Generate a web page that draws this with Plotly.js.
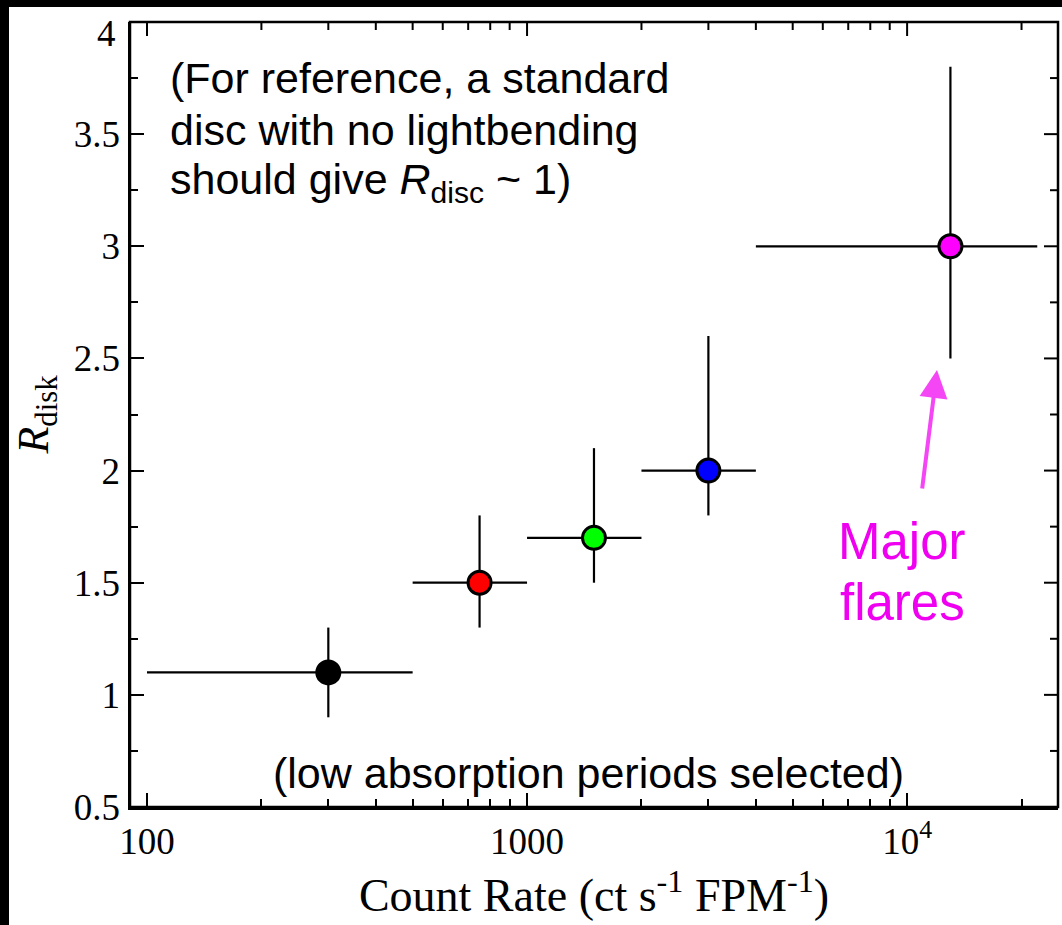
<!DOCTYPE html>
<html>
<head>
<meta charset="utf-8">
<script src="https://cdn.plot.ly/plotly-3.0.1.min.js"></script>
<style>
  html, body { margin: 0; padding: 0; background: #000; width: 1062px; height: 925px; overflow: hidden; }
  #chart { position: absolute; left: 9px; top: 7px; width: 1053px; height: 918px; background: #fff; }
</style>
</head>
<body>
<div id="chart"></div>
<script>
// Count-rate bins (ct s^-1 FPM^-1): centre and bin edges
const countRate = [300, 750, 1500, 3000, 13000];
const countLo   = [100, 500, 1000, 2000, 4000];
const countHi   = [500, 1000, 2000, 4000, 22000];

// Disc reflection fraction per bin, with lower/upper bounds
const rDisk = [1.1, 1.5, 1.7, 2.0, 3.0];
const rLo   = [0.9, 1.3, 1.5, 1.8, 2.5];
const rHi   = [1.3, 1.8, 2.1, 2.6, 3.8];

const pointColors = ['#000000', '#ff0000', '#00ff00', '#0000ff', '#ff00ff'];

const xTickVals = [100, 1000, 10000];
const xTickText = ['100', '1000', '10<sup>4</sup>'];
const xMinorVals = [200, 300, 400, 500, 600, 700, 800, 900,
                    2000, 3000, 4000, 5000, 6000, 7000, 8000, 9000, 20000];
// the top label (4) sits just below its tick so it stays inside the frame
const yTickVals = [0.5, 1, 1.5, 2, 2.5, 3, 3.5, 4];
const yTickText = ['0.5', '1', '1.5', '2', '2.5', '3', '3.5', ''];
const yTopLabel = '4';
const yMinorVals = [0.75, 1.25, 1.75, 2.25, 2.75, 3.25, 3.75];

const serif = 'Times New Roman, Liberation Serif, serif';
const sans = 'Arial, Liberation Sans, Helvetica, sans-serif';

const xRange = [1.9553, 4.397];
const yRange = [0.5, 4];
const MAJOR_LEN = 14, MINOR_LEN = 8;

const trace = {
  x: countRate,
  y: rDisk,
  type: 'scatter',
  mode: 'markers',
  marker: {
    size: 23,
    color: pointColors,
    line: { color: '#000', width: 3 }
  },
  error_x: {
    type: 'data', symmetric: false,
    array: countHi.map((h, i) => h - countRate[i]),
    arrayminus: countLo.map((l, i) => countRate[i] - l),
    color: '#000', thickness: 2.2, width: 0
  },
  error_y: {
    type: 'data', symmetric: false,
    array: rHi.map((h, i) => h - rDisk[i]),
    arrayminus: rLo.map((l, i) => rDisk[i] - l),
    color: '#000', thickness: 2.2, width: 0
  },
  hoverinfo: 'x+y'
};

// invisible companion trace carrying the minor-tick axes
const minorTrace = {
  x: countRate, y: rDisk, xaxis: 'x2', yaxis: 'y2',
  type: 'scatter', mode: 'markers', marker: { opacity: 0 }, hoverinfo: 'skip', showlegend: false
};

// plot-area pixel geometry inside the chart div
const W = 1053 - 121 - 4, H = 918 - 15 - 118;
const px = x => (x - 130) / W;        // page x -> paper x
const py = y => (807 - y) / H;        // page y -> paper y

const noteFont = { family: sans, size: 43, color: '#000' };
const flareFont = { family: sans, size: 51, color: '#f000f0' };
const tickFont = { family: serif, size: 37, color: '#000' };

const plain = { showgrid: false, zeroline: false, tickmode: 'array', ticks: 'inside', tickwidth: 2, tickcolor: '#000' };

// frame box plus tick marks along the top and right edges
const tickLine = { color: '#000', width: 2 };
const shapes = [
  { type: 'rect', xref: 'paper', yref: 'paper', x0: 0, x1: 1, y0: 0, y1: 1,
    line: { color: '#000', width: 2.5 }, fillcolor: 'rgba(0,0,0,0)', layer: 'above' }
];
xTickVals.concat(xMinorVals).forEach((v, i) => {
  const len = i < xTickVals.length ? MAJOR_LEN : MINOR_LEN;
  shapes.push({ type: 'line', xref: 'x', yref: 'paper', x0: v, x1: v, y0: 1, y1: 1 - len / H, line: tickLine, layer: 'above' });
});
yTickVals.concat(yMinorVals).forEach((v, i) => {
  const len = i < yTickVals.length ? MAJOR_LEN : MINOR_LEN;
  shapes.push({ type: 'line', xref: 'paper', yref: 'y', x0: 1, x1: 1 - len / W, y0: v, y1: v, line: tickLine, layer: 'above' });
});

const layout = {
  width: 1053,
  height: 918,
  margin: { l: 121, r: 4, t: 15, b: 118 },
  paper_bgcolor: '#fff',
  plot_bgcolor: '#fff',
  showlegend: false,
  xaxis: Object.assign({ type: 'log', range: xRange, tickvals: xTickVals, ticktext: xTickText, tickfont: tickFont, ticklen: MAJOR_LEN,
    showline: true, linecolor: '#000', linewidth: 2.5,
    title: { text: 'Count Rate (ct s<sup>-1</sup> FPM<sup>-1</sup>)', font: { family: serif, size: 46, color: '#000' }, standoff: 18 }
  }, plain),
  yaxis: Object.assign({ range: yRange, tickvals: yTickVals, ticktext: yTickText, tickfont: tickFont, ticklen: MAJOR_LEN,
    showline: true, linecolor: '#000', linewidth: 2.5,
    title: { text: '<i>R</i><sub>disk</sub>', font: { family: serif, size: 44, color: '#000' }, standoff: 14 }
  }, plain),
  xaxis2: Object.assign({ type: 'log', range: xRange, overlaying: 'x', anchor: 'y', side: 'bottom',
    tickvals: xMinorVals, ticklen: MINOR_LEN, showticklabels: false, showline: false }, plain),
  yaxis2: Object.assign({ range: yRange, overlaying: 'y', anchor: 'x', side: 'left',
    tickvals: yMinorVals, ticklen: MINOR_LEN, showticklabels: false, showline: false }, plain),
  shapes: shapes,
  annotations: [
    { xref: 'paper', yref: 'paper', x: px(118), y: py(34), xanchor: 'right', yanchor: 'middle',
      text: yTopLabel, showarrow: false, font: tickFont },
    { xref: 'paper', yref: 'paper', x: px(168), y: py(78), xanchor: 'left', yanchor: 'middle',
      text: '(For reference, a standard', showarrow: false, font: noteFont },
    { xref: 'paper', yref: 'paper', x: px(168), y: py(130), xanchor: 'left', yanchor: 'middle',
      text: 'disc with no lightbending', showarrow: false, font: noteFont },
    { xref: 'paper', yref: 'paper', x: px(168), y: py(182), xanchor: 'left', yanchor: 'middle',
      text: 'should give <i>R</i><sub>disc</sub> ~ 1)', showarrow: false, font: noteFont },
    { xref: 'paper', yref: 'paper', x: px(588), y: py(773), xanchor: 'center', yanchor: 'middle',
      text: '(low absorption periods selected)', showarrow: false, font: noteFont },
    { xref: 'paper', yref: 'paper', x: px(902), y: py(541), xanchor: 'center', yanchor: 'middle',
      text: 'Major', showarrow: false, font: flareFont },
    { xref: 'paper', yref: 'paper', x: px(902), y: py(602), xanchor: 'center', yanchor: 'middle',
      text: 'flares', showarrow: false, font: flareFont },
    { xref: 'paper', yref: 'paper', x: px(937), y: py(370), text: '', showarrow: true,
      ax: -15, ay: 120, arrowhead: 2, arrowsize: 1.4, arrowwidth: 4, arrowcolor: '#f446f4', standoff: 0 }
  ]
};

Plotly.newPlot('chart', [trace, minorTrace], layout, { displayModeBar: false, staticPlot: true });
</script>
</body>
</html>
